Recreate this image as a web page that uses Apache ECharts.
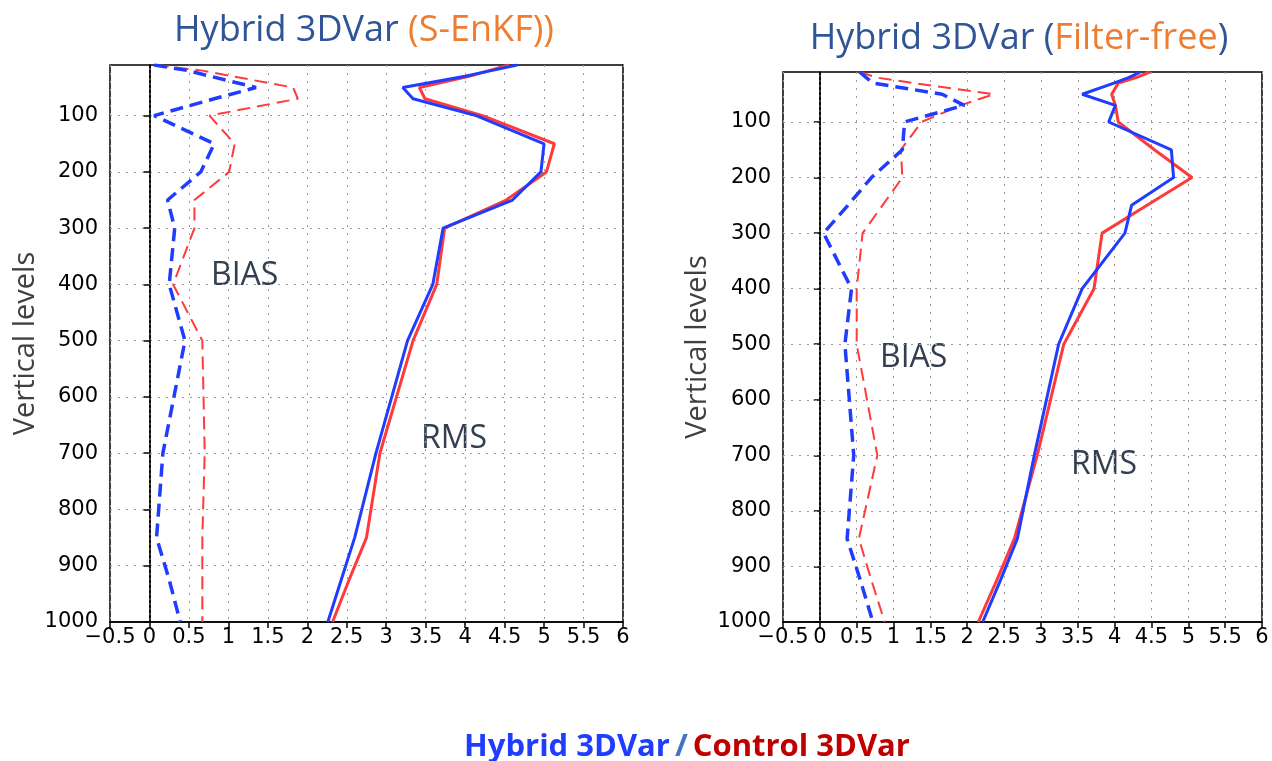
<!DOCTYPE html>
<html>
<head>
<meta charset="utf-8">
<script src="https://cdn.jsdelivr.net/npm/echarts@6/dist/echarts.min.js"></script>
<style>
html,body{margin:0;padding:0;background:#fff;}
#c{width:1272px;height:761px;}
</style>
</head>
<body>
<div id="c"></div>
<script>
// Vertical levels (hPa)
const levels = [10, 20, 30, 50, 70, 100, 150, 200, 250, 300, 400, 500, 700, 850, 925, 1000];
const yTicks = [100, 200, 300, 400, 500, 600, 700, 800, 900, 1000];
const yGrid = [100, 200, 300, 400, 500, 600, 700, 800, 900];

// Left panel: Hybrid 3DVar (S-EnKF)
const hybBiasL = [0.06, 0.49, 0.77, 1.35, 0.82, 0.06, 0.82, 0.65, 0.23, 0.32, 0.25, 0.45, 0.17, 0.09, 0.25, 0.39];
const ctlBiasL = [0.08, 0.67, 1.05, 1.82, 1.88, 0.76, 1.08, 1.01, 0.57, 0.57, 0.30, 0.67, 0.70, 0.67, 0.67, 0.67];
const hybRmsL  = [4.66, 4.33, 4.00, 3.21, 3.34, 4.14, 5.00, 4.96, 4.60, 3.72, 3.59, 3.27, 2.87, 2.60, 2.43, 2.26];
const ctlRmsL  = [4.56, 4.30, 4.05, 3.42, 3.49, 4.22, 5.13, 5.03, 4.52, 3.74, 3.64, 3.34, 2.92, 2.75, 2.53, 2.32];

// Right panel: Hybrid 3DVar (Filter-free)
const hybBiasR = [0.54, 0.63, 0.72, 1.66, 1.96, 1.15, 1.12, 0.70, 0.38, 0.05, 0.43, 0.34, 0.46, 0.37, 0.55, 0.72];
const ctlBiasR = [0.54, 0.77, 1.27, 2.36, 1.91, 1.38, 1.10, 1.12, 0.85, 0.58, 0.50, 0.50, 0.78, 0.53, 0.70, 0.88];
const hybRmsR  = [4.35, 4.19, 3.99, 3.56, 4.01, 3.92, 4.77, 4.80, 4.23, 4.14, 3.56, 3.24, 2.91, 2.68, 2.45, 2.21];
const ctlRmsR  = [4.48, 4.29, 4.05, 3.96, 4.01, 4.05, 4.54, 5.05, 4.44, 3.83, 3.72, 3.31, 2.95, 2.64, 2.40, 2.15];

const BLUE = '#1f3cff';
const RED = '#ff3a3a';
const pair = vals => levels.map((lv, i) => [vals[i], lv]);

const chart = echarts.init(document.getElementById('c'), null, {renderer: 'canvas'});

function xAxisFor(gi) {
  return {
    type: 'value', gridIndex: gi, min: -0.5, max: 6, interval: 0.5,
    axisLine: {show: true, onZero: false, lineStyle: {color: '#000', width: 1.5}},
    axisTick: {show: true, length: 6, lineStyle: {color: '#000', width: 1.5}},
    axisLabel: {
      margin: 5, color: '#000', fontFamily: 'DejaVu Sans', fontSize: 21,
      formatter: v => v < 0 ? '\u2212' + Math.abs(v) : String(v)
    },
    splitLine: {show: true, lineStyle: {type: [2, 6], color: '#9a9a9a', width: 1}}
  };
}
function yAxisFor(gi, name, gap) {
  return {
    type: 'value', gridIndex: gi, inverse: true, min: 10, max: 1000,
    name: name, nameLocation: 'middle', nameGap: gap, nameRotate: 90,
    nameTextStyle: {fontFamily: 'Open Sans', fontSize: 29, color: '#404040'},
    axisLine: {show: true, lineStyle: {color: '#000', width: 1.5}},
    axisTick: {show: true, length: 6, customValues: yTicks, lineStyle: {color: '#000', width: 1.5}},
    axisLabel: {customValues: yTicks, margin: 12, color: '#000', fontFamily: 'DejaVu Sans', fontSize: 21,
      formatter: v => String(v)},
    splitLine: {show: false}
  };
}
function gridLines(xi, yi) {
  return {
    type: 'line', xAxisIndex: xi, yAxisIndex: yi, data: [], silent: true,
    markLine: {
      silent: true, symbol: 'none', label: {show: false},
      lineStyle: {type: [2, 6], color: '#9a9a9a', width: 1},
      data: yGrid.map(v => ({yAxis: v})).concat([
        {xAxis: 0, lineStyle: {type: [3, 2], color: '#000', width: 1.6}}
      ])
    }
  };
}
function lineSeries(xi, yi, vals, color, kind) {
  const ls = kind === 'rms'
    ? {color: color, width: 3, type: 'solid'}
    : (color === BLUE ? {color: color, width: 3.5, type: [13, 7]} : {color: color, width: 2, type: [13, 7]});
  return {
    type: 'line', xAxisIndex: xi, yAxisIndex: yi, data: pair(vals),
    showSymbol: false, symbol: 'none', lineStyle: ls, animation: false, z: 5
  };
}

const titleRich = {
  a: {color: '#2f5597', fontFamily: 'Open Sans', fontSize: 36, fontWeight: 'normal'},
  b: {color: '#ed7d31', fontFamily: 'Open Sans', fontSize: 36, fontWeight: 'normal'}
};

chart.setOption({
  animation: false,
  backgroundColor: '#fff',
  title: [
    {text: '{a|Hybrid 3DVar }{b|(S-EnKF))}', left: 359, top: 8, textAlign: 'center',
     textStyle: {fontWeight: 'normal', rich: titleRich}},
    {text: '{a|Hybrid 3DVar (}{b|Filter-free}{a|)}', left: 1014, top: 16, textAlign: 'center',
     textStyle: {fontWeight: 'normal', rich: titleRich}},
    {text: '{h|Hybrid 3DVar} {s|/} {c|Control 3DVar}', left: 682, top: 727, textAlign: 'center',
     textStyle: {rich: {
       h: {color: '#1f3cff', fontFamily: 'Open Sans', fontSize: 31, fontWeight: 'bold'},
       s: {color: '#4472c4', fontFamily: 'Open Sans', fontSize: 31, fontWeight: 'bold'},
       c: {color: '#c00000', fontFamily: 'Open Sans', fontSize: 31, fontWeight: 'bold'}
     }}}
  ],
  grid: [
    {left: 110, right: 649, top: 65, bottom: 139, show: true, borderColor: '#000', borderWidth: 1.5, backgroundColor: 'transparent'},
    {left: 783, right: 10, top: 72, bottom: 139, show: true, borderColor: '#000', borderWidth: 1.5, backgroundColor: 'transparent'}
  ],
  xAxis: [xAxisFor(0), xAxisFor(1)],
  yAxis: [yAxisFor(0, 'Vertical levels', 65), yAxisFor(1, 'Vertical levels', 71)],
  graphic: [
    {type: 'text', left: 211, top: 260, style: {text: 'BIAS', font: '32px "Open Sans"', fill: '#333f50'}},
    {type: 'text', left: 421, top: 423, style: {text: 'RMS', font: '32px "Open Sans"', fill: '#333f50'}},
    {type: 'text', left: 880, top: 342, style: {text: 'BIAS', font: '32px "Open Sans"', fill: '#333f50'}},
    {type: 'text', left: 1071, top: 449, style: {text: 'RMS', font: '32px "Open Sans"', fill: '#333f50'}}
  ],
  series: [
    gridLines(0, 0),
    gridLines(1, 1),
    lineSeries(0, 0, ctlBiasL, RED, 'bias'),
    lineSeries(0, 0, hybBiasL, BLUE, 'bias'),
    lineSeries(0, 0, ctlRmsL, RED, 'rms'),
    lineSeries(0, 0, hybRmsL, BLUE, 'rms'),
    lineSeries(1, 1, ctlBiasR, RED, 'bias'),
    lineSeries(1, 1, hybBiasR, BLUE, 'bias'),
    lineSeries(1, 1, ctlRmsR, RED, 'rms'),
    lineSeries(1, 1, hybRmsR, BLUE, 'rms')
  ]
});
</script>
</body>
</html>
